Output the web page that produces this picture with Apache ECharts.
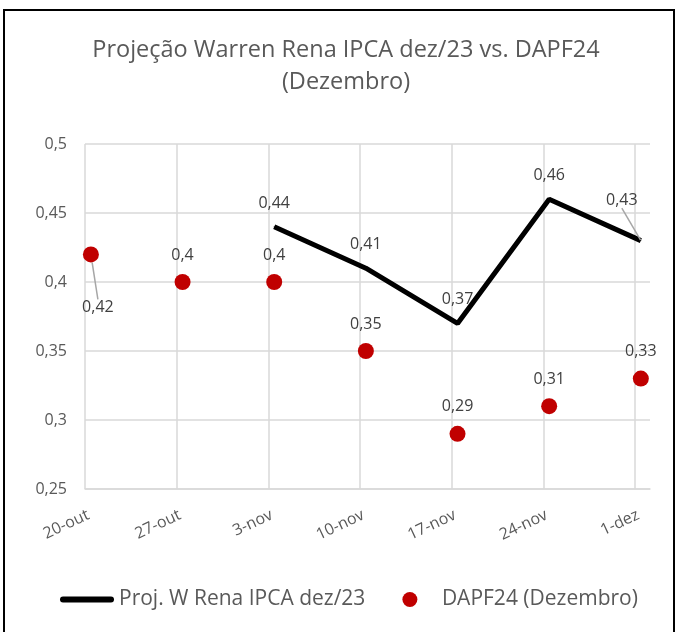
<!DOCTYPE html>
<html>
<head>
	<meta charset="utf-8">
	<title>Projeção Warren Rena IPCA dez/23 vs. DAPF24</title>
	<script type="text/javascript" src="https://cdn.jsdelivr.net/npm/echarts@6/dist/echarts.min.js"></script>
	<style>
		html, body { margin: 0; padding: 0; background: #fff; }
		#chart { width: 677px; height: 632px; }
	</style>
</head>
<body>
	<div id="chart"></div>
	<script type="text/javascript">
		// week labels (x axis), one every 7 days
		const categories = ['20-out', '27-out', '3-nov', '10-nov', '17-nov', '24-nov', '1-dez'];
		// Proj. W Rena IPCA dez/23 (starts on 3-nov)
		const projWRena = [null, null, 0.44, 0.41, 0.37, 0.46, 0.43];
		// DAPF24 (Dezembro)
		const dapf24 = [0.42, 0.4, 0.4, 0.35, 0.29, 0.31, 0.33];

		const dayStep = 7;
		const pointShift = 0.45; // points sit a little after the label date
		const xOf = i => i * dayStep + pointShift;
		const fmt = v => String(+(+v).toFixed(2)).replace('.', ',');
		const font = "'Open Sans', 'Noto Sans', sans-serif";
		const textGray = '#595959';
		const labelGray = '#404040';
		const leader = { show: true, lineStyle: { color: '#a6a6a6', width: 1.5 } };

		// labels moved off their point get a leader line (first DAPF, last projection)
		const lineData = [];
		projWRena.forEach((v, i) => {
			if (v == null) return;
			const item = { value: [xOf(i), v] };
			if (i === projWRena.length - 1) item.labelLine = leader;
			lineData.push(item);
		});
		const dotData = dapf24.map((v, i) => i === 0 ? { value: [xOf(i), v], labelLine: leader } : [xOf(i), v]);

		const myChart = echarts.init(document.getElementById('chart'));
		myChart.setOption({
			animation: false,
			textStyle: { fontFamily: font },
			graphic: [{
				type: 'rect',
				shape: { x: 4, y: 10, width: 670, height: 640 },
				style: { fill: 'none', stroke: '#000', lineWidth: 2 },
				silent: true
			}],
			title: {
				text: 'Projeção Warren Rena IPCA dez/23 vs. DAPF24\n(Dezembro)',
				left: 341,
				top: 29,
				textAlign: 'center',
				textStyle: { fontFamily: font, fontSize: 23.5, fontWeight: 'normal', color: textGray, lineHeight: 32 }
			},
			legend: {
				top: 584,
				left: 55,
				itemGap: 37,
				itemWidth: 54,
				itemHeight: 15,
				textStyle: { fontFamily: font, fontSize: 21, color: textGray },
				data: [
					{ name: 'Proj. W Rena IPCA dez/23', icon: 'path://M3,0 L51,0 A3,3 0 0 1 51,6 L3,6 A3,3 0 0 1 3,0 Z' },
					{ name: 'DAPF24 (Dezembro)', icon: 'circle' }
				]
			},
			grid: { left: 85, right: 27, top: 144, bottom: 143 },
			xAxis: {
				type: 'value',
				min: 0,
				max: 43.15,
				interval: dayStep,
				axisLine: { show: true, lineStyle: { color: '#d9d9d9', width: 1.5 } },
				axisTick: { show: false },
				splitLine: { show: true, showMaxLine: false, lineStyle: { color: '#d9d9d9', width: 1.5 } },
				axisLabel: {
					rotate: 25,
					showMaxLabel: false,
					margin: 18,
					verticalAlign: 'top',
					fontFamily: font,
					fontSize: 16,
					color: textGray,
					formatter: v => categories[Math.round(v / dayStep)] || ''
				}
			},
			yAxis: {
				type: 'value',
				min: 0.25,
				max: 0.5,
				interval: 0.05,
				axisLine: { show: false },
				axisTick: { show: false },
				splitLine: { lineStyle: { color: '#d9d9d9', width: 1.5 } },
				axisLabel: { fontFamily: font, fontSize: 16, color: textGray, margin: 18, formatter: fmt }
			},
			series: [
				{
					name: 'Proj. W Rena IPCA dez/23',
					type: 'line',
					data: lineData,
					showSymbol: true,
					symbol: 'circle',
					symbolSize: 1,
					lineStyle: { color: '#000', width: 5 },
					itemStyle: { color: '#000' },
					label: {
						show: true,
						position: 'top',
						distance: 15,
						fontFamily: font,
						fontSize: 16,
						color: labelGray,
						formatter: p => fmt(p.value[1])
					},
					labelLayout: p => p.dataIndex === lineData.length - 1 ? { dx: -19, dy: -17 } : {}
				},
				{
					name: 'DAPF24 (Dezembro)',
					type: 'scatter',
					data: dotData,
					symbolSize: 16,
					itemStyle: { color: '#c00000', opacity: 1 },
					label: {
						show: true,
						position: 'top',
						distance: 11,
						fontFamily: font,
						fontSize: 16,
						color: labelGray,
						formatter: p => fmt(p.value[1])
					},
					labelLayout: p => p.dataIndex === 0 ? { dx: 7, dy: 80 } : {}
				}
			]
		});
	</script>
</body>
</html>
